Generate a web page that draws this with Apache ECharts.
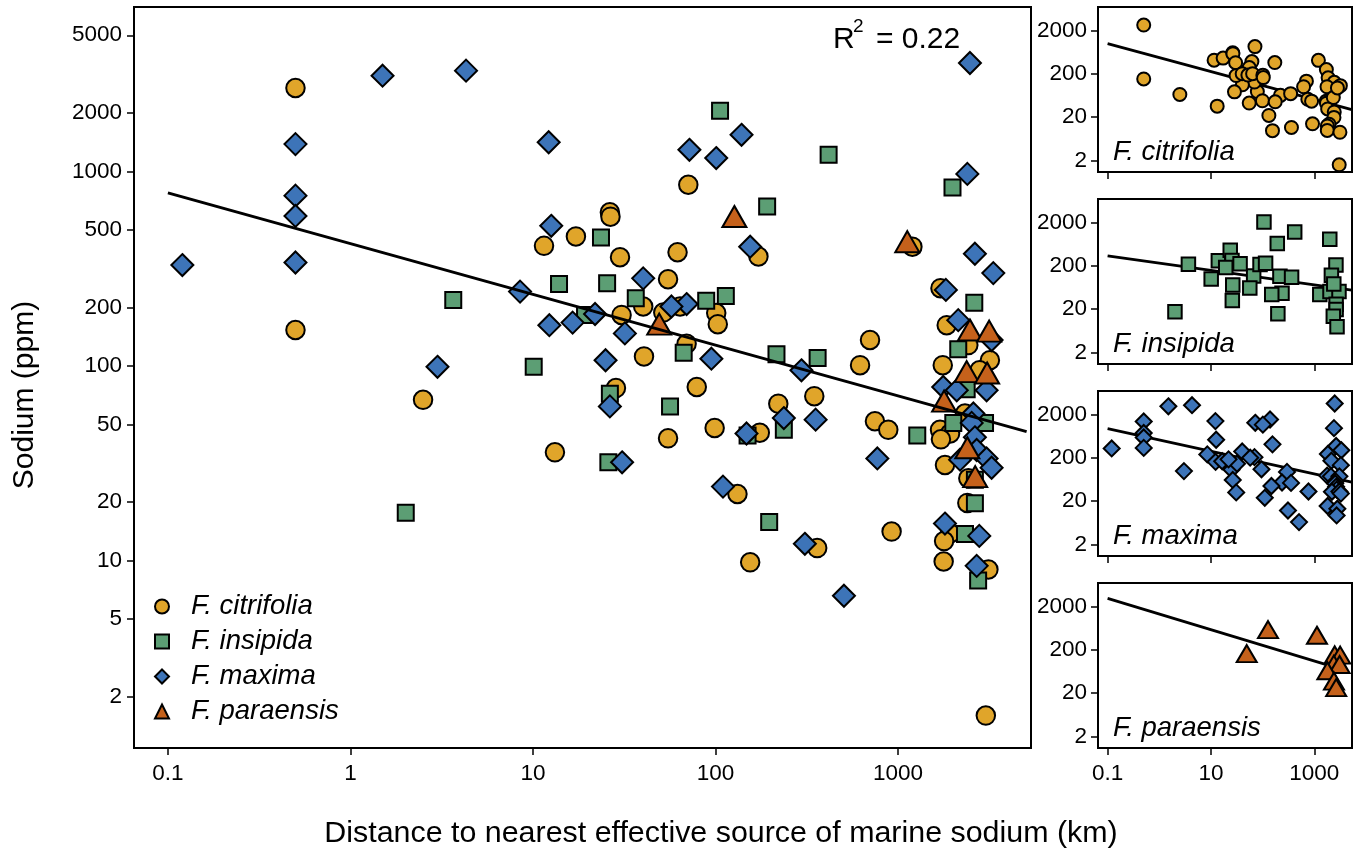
<!DOCTYPE html>
<html>
<head>
<meta charset="utf-8">
<script src="https://cdn.jsdelivr.net/npm/echarts@6/dist/echarts.min.js"></script>
<style>
    html, body { margin: 0; padding: 0; background: #fff; }
    #chart { width: 1358px; height: 859px; }
</style>
</head>
<body>
<div id="chart"></div>
<script>
// [distance to marine sodium source (km), sodium (ppm)]
const citrifolia = [
    [0.5, 2680], [0.5, 153], [2.5, 67], [11.5, 414], [17.2, 463], [13.2, 36], [26.4, 616], [26.6, 585],
    [30, 362], [62, 384], [71, 853], [172, 365], [1200, 410], [1710, 251], [1850, 162], [2430, 128],
    [3190, 107], [1760, 101], [703, 136], [620, 101], [79, 78], [69.5, 130], [40.6, 112], [30.6, 183],
    [55, 279], [40.2, 202], [51.8, 188], [64, 202], [101, 187], [103, 164], [28.5, 77], [221, 64],
    [348, 70], [99, 48], [55, 42.5], [175, 45.4], [132, 22], [361, 11.6], [155, 9.8], [748, 52],
    [885, 47], [923, 14.1], [1700, 47], [1930, 45], [1720, 42], [2330, 57], [1810, 31], [2430, 26.5],
    [2400, 19.8], [1930, 13.8], [1790, 12.6], [1780, 9.9], [3130, 9], [3030, 1.6], [2800, 95]
];
const insipida = [
    [3.66, 218], [13.9, 264], [10.1, 99], [2.01, 17.6], [106, 2050], [417, 1215], [1990, 826], [192, 659],
    [23.6, 457], [2620, 211], [2140, 122], [216, 115], [363, 110], [67, 117], [25.5, 266], [36.6, 223],
    [89, 216], [114, 229], [19.3, 183], [26.4, 72], [56.4, 62], [237, 47], [150, 44], [1276, 44],
    [2010, 51], [3000, 51], [2640, 26], [2640, 19.7], [2330, 13.7], [2750, 7.9], [2380, 76], [25.9, 32],
    [197, 15.8]
];
const maxima = [
    [0.12, 330], [0.5, 1380], [0.5, 750], [0.5, 590], [0.5, 340], [1.5, 3100], [4.3, 3290], [12.2, 1410],
    [12.6, 525], [8.5, 241], [12.3, 162], [16.5, 167], [3, 99], [2480, 3600], [139, 1540], [72, 1290],
    [101, 1170], [2400, 970], [155, 410], [2640, 377], [3330, 300], [1830, 246], [2140, 172], [3260, 136],
    [1770, 78], [2100, 75], [3060, 75], [296, 95], [95, 109], [25, 107], [31.9, 147], [21.9, 185],
    [40.2, 282], [69.5, 208], [57.4, 202], [26.4, 62], [237, 54], [354, 53], [148, 45], [30.8, 32],
    [110, 24], [309, 12.2], [506, 6.6], [771, 33.5], [2590, 57], [2535, 51], [2640, 43], [2700, 37],
    [2190, 33], [3060, 33.5], [3260, 30], [1810, 15.5], [2790, 13.4], [2700, 9.4]
];
const paraensis = [
    [49.2, 164], [127, 586], [1125, 435], [2480, 153], [3160, 151], [2380, 93.5], [3080, 92], [1790, 66],
    [2400, 38], [2650, 27]
];

const speciesNames = ['F. citrifolia', 'F. insipida', 'F. maxima', 'F. paraensis'];
const speciesData = [citrifolia, insipida, maxima, paraensis];

// fitted lines: all species together, then one per species
const allFit = [[0.1, 775], [5070, 46]];
const speciesFits = [
    [[0.1, 1000], [5300, 30]],
    [[0.1, 339], [5300, 55]],
    [[0.1, 950], [5300, 55]],
    [[0.1, 3100], [3300, 72]]
];
const rSquared = '0.22';

const xTicksMain = [0.1, 1, 10, 100, 1000];
const yTicksMain = [2, 5, 10, 20, 50, 100, 200, 500, 1000, 2000, 5000];
const xTicksPanel = [0.1, 10, 1000];
const yTicksPanel = [2, 20, 200, 2000];

const X_MIN = 0.0652, X_MAX = 5358;
const Y_MIN = 1.09, Y_MAX = 6985;

const FONT = '"Liberation Sans", Arial, sans-serif';
const COLORS = ['#E0A52A', '#5C9E74', '#3D74B8', '#C5611B'];
const SYMBOLS = ['circle', 'rect', 'diamond', 'triangle'];
const SIZE_MAIN = [18.5, 16, 22, [24, 21]];
const SIZE_PANEL = [13, 13.5, 16, [20, 17]];

const panelTops = [7, 199, 391, 583];
const PANEL_H = 165;

const fmt = v => String(+(+v).toPrecision(3));

function xAxis(gridIndex, ticks, showLabels) {
    return {
        type: 'log', logBase: 10, gridIndex: gridIndex, min: X_MIN, max: X_MAX,
        axisLine: { show: false },
        splitLine: { show: false },
        minorTick: { show: false },
        axisTick: { show: true, length: 7, lineStyle: { color: '#000', width: 1.5 }, customValues: ticks },
        axisLabel: { show: showLabels, customValues: ticks, margin: 14, color: '#000', fontSize: 22.5, fontFamily: FONT, formatter: fmt }
    };
}
function yAxis(gridIndex, ticks, margin) {
    return {
        type: 'log', logBase: 10, gridIndex: gridIndex, min: Y_MIN, max: Y_MAX,
        axisLine: { show: false },
        splitLine: { show: false },
        minorTick: { show: false },
        axisTick: { show: true, length: 7, lineStyle: { color: '#000', width: 1.5 }, customValues: ticks },
        axisLabel: { customValues: ticks, margin: margin, color: '#000', fontSize: 22.5, fontFamily: FONT, formatter: fmt }
    };
}

const grids = [{ left: 134, top: 7, width: 897, height: 741 }];
panelTops.forEach(t => grids.push({ left: 1098, top: t, width: 254, height: PANEL_H }));
grids.forEach(g => Object.assign(g, { show: true, borderColor: '#000', borderWidth: 2, backgroundColor: 'transparent', outerBoundsMode: 'none' }));

const xAxes = [xAxis(0, xTicksMain, true)];
const yAxes = [yAxis(0, yTicksMain, 12)];
panelTops.forEach((t, i) => {
    xAxes.push(xAxis(i + 1, xTicksPanel, i === 3));
    yAxes.push(yAxis(i + 1, yTicksPanel, 11));
});

const series = [];
speciesData.forEach((d, i) => {
    series.push({
        type: 'scatter', name: speciesNames[i], xAxisIndex: 0, yAxisIndex: 0, data: d,
        symbol: SYMBOLS[i], symbolSize: SIZE_MAIN[i], z: 3 + i,
        itemStyle: { color: COLORS[i], borderColor: '#000', borderWidth: 2, opacity: 1 },
        emphasis: { disabled: true }
    });
});
series.push({
    type: 'line', xAxisIndex: 0, yAxisIndex: 0, data: allFit, symbol: 'none', z: 10,
    lineStyle: { color: '#000', width: 3 }, emphasis: { disabled: true }
});
speciesData.forEach((d, i) => {
    series.push({
        type: 'scatter', name: speciesNames[i], xAxisIndex: i + 1, yAxisIndex: i + 1, data: d,
        symbol: SYMBOLS[i], symbolSize: SIZE_PANEL[i], z: 3,
        itemStyle: { color: COLORS[i], borderColor: '#000', borderWidth: 2, opacity: 1 },
        emphasis: { disabled: true }
    });
    series.push({
        type: 'line', xAxisIndex: i + 1, yAxisIndex: i + 1, data: speciesFits[i], symbol: 'none', z: 2,
        lineStyle: { color: '#000', width: 2.8 }, emphasis: { disabled: true }
    });
});

const graphic = [
    { type: 'text', x: 25, y: 395, rotation: Math.PI / 2,
      style: { text: 'Sodium (ppm)', fontSize: 30, fontFamily: FONT, fill: '#000', align: 'center', verticalAlign: 'middle' } },
    { type: 'text', x: 721, y: 834,
      style: { text: 'Distance to nearest effective source of marine sodium (km)', fontSize: 30.4, fontFamily: FONT, fill: '#000', align: 'center', verticalAlign: 'middle' } },
    { type: 'text', x: 833, y: 40,
      style: { text: 'R', fontSize: 30, fontFamily: FONT, fill: '#000', align: 'left', verticalAlign: 'middle' } },
    { type: 'text', x: 853, y: 27,
      style: { text: '2', fontSize: 19, fontFamily: FONT, fill: '#000', align: 'left', verticalAlign: 'middle' } },
    { type: 'text', x: 876, y: 40,
      style: { text: '= ' + rSquared, fontSize: 30, fontFamily: FONT, fill: '#000', align: 'left', verticalAlign: 'middle' } }
];
panelTops.forEach((t, i) => {
    graphic.push({ type: 'text', x: 1113, y: t + PANEL_H - 20,
        style: { text: speciesNames[i], fontSize: 27.5, fontStyle: 'italic', fontFamily: FONT, fill: '#000', align: 'left', verticalAlign: 'middle' } });
});

const option = {
    animation: false,
    backgroundColor: '#fff',
    grid: grids,
    xAxis: xAxes,
    yAxis: yAxes,
    legend: {
        data: speciesNames,
        orient: 'vertical',
        left: 154, top: 593, padding: 0,
        itemWidth: 14, itemHeight: 14, itemGap: 8,
        selectedMode: false,
        textStyle: { fontSize: 27.5, fontStyle: 'italic', fontFamily: FONT, color: '#000', padding: [0, 0, 0, 17] }
    },
    graphic: graphic,
    series: series
};

const chart = echarts.init(document.getElementById('chart'));
chart.setOption(option);
</script>
</body>
</html>
